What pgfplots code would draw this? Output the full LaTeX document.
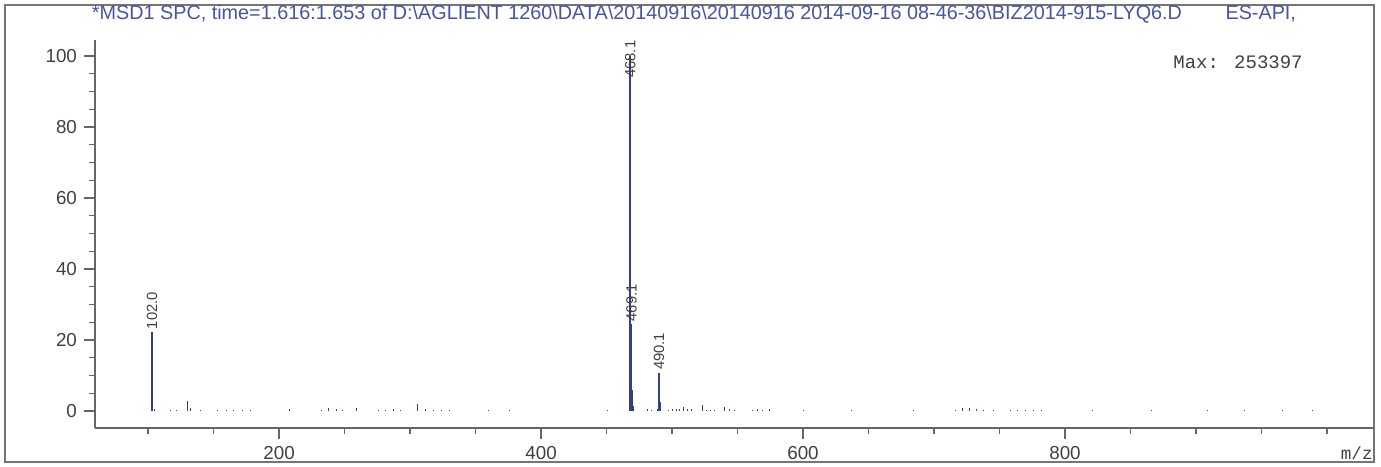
\documentclass[border=0pt]{standalone}
\usepackage{fontspec}
\setmainfont{Liberation Sans}
\newfontfamily\monofont{Liberation Mono}
\usepackage{pgfplots}
\pgfplotsset{compat=1.18}
\definecolor{peak}{RGB}{52,64,128}
\definecolor{titleblue}{RGB}{72,84,163}
\definecolor{axisgray}{RGB}{102,102,102}
\definecolor{ticktext}{RGB}{64,64,64}
\begin{document}
\begin{tikzpicture}
\useasboundingbox (-47.5pt,-19pt) rectangle (643pt,214pt);
\draw[axisgray!90, line width=0.6pt] (-45pt,-17pt) rectangle (639.5pt,211.5pt);
\begin{axis}[
  at={(0,0)}, anchor=south west,
  scale only axis, width=639.5pt, height=194pt,
  xmin=59.5, xmax=1035.9, ymin=-4.8, ymax=104.5,
  axis lines=left, axis line style={-, axisgray, line width=0.65pt},
  xtick={200,400,600,800}, minor xtick={100,150,...,1000},
  ytick={0,20,...,100}, minor ytick={5,10,...,100},
  tick align=outside,
  major tick length=5.5pt, minor tick length=3pt,
  tick style={axisgray, line width=0.6pt},
  every tick label/.append style={font=\fontsize{9.4pt}{11pt}\selectfont, text=ticktext},
  /pgf/number format/assume math mode=true,
  clip=false,
]
\addplot[ycomb, peak, line width=0.4pt, mark=none] table {
x y
103.5 1.5
105 0.6
117 0.3
122 0.3
130.3 2.8
132 0.8
139.7 0.3
153 0.3
160 0.4
165 0.3
172 0.3
178 0.3
208 0.5
232 0.3
238 0.8
244 0.5
248 0.3
259 0.7
276 0.3
281 0.4
287 0.5
293 0.3
306 2.0
312 0.5
318 0.3
324 0.4
330 0.3
360 0.3
376 0.3
451 0.4
468.6 23.5
469.6 6.0
470.1 4.5
470.6 1.5
481 0.5
484 0.4
488.5 0.5
491 2.5
497 0.3
500 0.5
503 0.5
506 0.6
509 1.0
512 0.6
515 0.5
523 1.6
526 0.4
529 0.3
532 0.4
540 1.0
544 0.5
548 0.3
561 0.4
565 0.5
569 0.3
574 0.5
600 0.3
637 0.3
684 0.3
716 0.3
722 0.8
727 0.8
732 0.6
738 0.4
745 0.3
758 0.3
764 0.3
770 0.4
776 0.3
782 0.3
821 0.3
866 0.3
909 0.3
937 0.3
966 0.3
989 0.3
};
\addplot[ycomb, peak, line width=0.75pt, mark=none] table {
x y
103.0 22.3
468.1 100
469.1 24.5
490.1 10.8
};
\begin{scope}[every node/.style={rotate=90, anchor=west, inner sep=1pt, font=\fontsize{7.4pt}{8.5pt}\selectfont, text=ticktext}]
\node at (axis cs:103.0,22.4) {102.0};
\node at (axis cs:468.1,93.2) {468.1};
\node at (axis cs:469.1,24.6) {469.1};
\node at (axis cs:490.1,10.9) {490.1};
\end{scope}
\end{axis}
\node[anchor=center, text=titleblue, font=\fontsize{9.9pt}{12pt}\selectfont, inner sep=0pt] at (299.5pt,207pt) {*MSD1 SPC, time=1.616:1.653 of D:\textbackslash AGLIENT 1260\textbackslash DATA\textbackslash 20140916\textbackslash 20140916 2014-09-16 08-46-36\textbackslash BIZ2014-915-LYQ6.D\hspace{2.2em}ES-API,};
\node[anchor=west, text=ticktext, font=\monofont\fontsize{9.5pt}{11pt}\selectfont, inner sep=0pt] at (539pt,183pt) {Max: 253397};
\node[anchor=east, text=ticktext, font=\monofont\fontsize{8.8pt}{10pt}\selectfont, inner sep=0pt] at (639pt,-12.5pt) {m/z};
\end{tikzpicture}
\end{document}
